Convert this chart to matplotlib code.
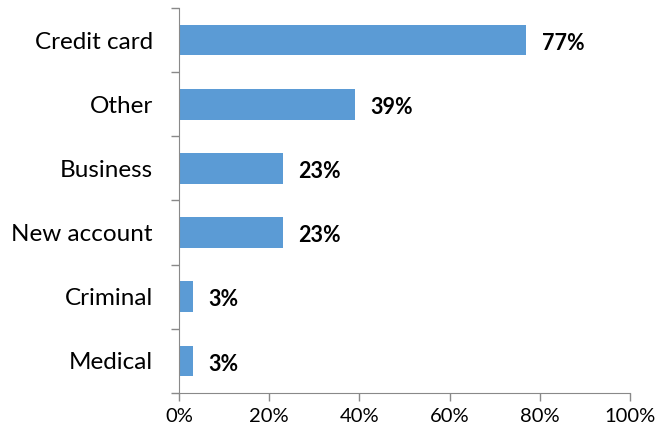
import numpy as np
import matplotlib.pyplot as plt
from matplotlib.ticker import FixedLocator, PercentFormatter

# 카테고리와 비율 값 (위에서 아래 순서)
categories = ["Credit card", "Other", "Business", "New account", "Criminal", "Medical"]
values = [77, 39, 23, 23, 3, 3]

plt.rcParams['font.family'] = ['Lato', 'DejaVu Sans']

fig = plt.figure(figsize=(6.71, 4.32), dpi=100)
ax = fig.add_axes([0.2668, 0.0903, 0.6721, 0.8912])

y = np.arange(len(categories))[::-1]
ax.barh(y, values, height=0.48, color='#5B9BD5')

for yi, v in zip(y, values):
    ax.text(v + 3.5, yi - 0.05, f"{v}%", va='center', ha='left',
            fontsize=15.5, fontweight='bold', color='black')

ax.set_xlim(0, 100)
ax.set_ylim(-0.5, len(categories) - 0.5)
ax.set_xticks(np.arange(0, 101, 20))
ax.xaxis.set_major_formatter(PercentFormatter(decimals=0))
ax.set_yticks(y)
ax.set_yticklabels(categories)
ax.yaxis.set_minor_locator(FixedLocator(np.arange(-0.5, len(categories), 1.0)))

ax.tick_params(axis='y', which='major', length=0, pad=19, labelsize=17.5)
ax.tick_params(axis='y', which='minor', length=6, color='#898989', width=1)
ax.tick_params(axis='x', length=6, color='#898989', width=1, labelsize=14.5, pad=5)

for side in ['top', 'right']:
    ax.spines[side].set_visible(False)
for side in ['left', 'bottom']:
    ax.spines[side].set_color('#898989')

fig.savefig('out.png', dpi=100)
